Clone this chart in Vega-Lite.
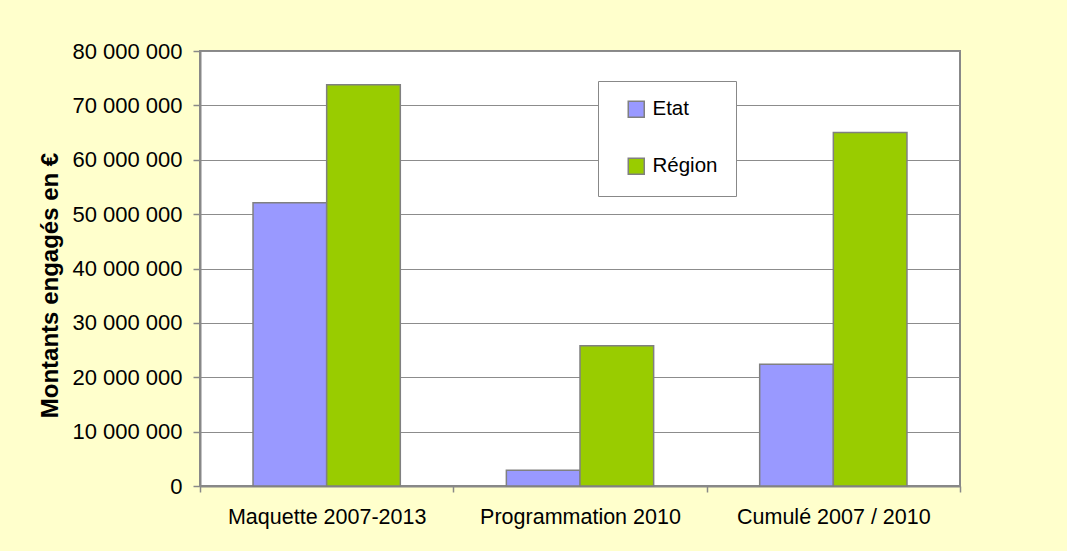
{
  "$schema": "https://vega.github.io/schema/vega-lite/v6.json",
  "width": 760,
  "height": 435,
  "autosize": {"type": "none"},
  "padding": {"left": 200, "top": 51, "right": 107, "bottom": 65},
  "background": "#FFFFCC",
  "data": {
    "values": [
      {"categorie": "Maquette 2007-2013", "serie": "Etat", "montant": 52100000},
      {"categorie": "Maquette 2007-2013", "serie": "Région", "montant": 73800000},
      {"categorie": "Programmation 2010", "serie": "Etat", "montant": 2900000},
      {"categorie": "Programmation 2010", "serie": "Région", "montant": 25800000},
      {"categorie": "Cumulé 2007 / 2010", "serie": "Etat", "montant": 22400000},
      {"categorie": "Cumulé 2007 / 2010", "serie": "Région", "montant": 65000000}
    ]
  },
  "mark": {"type": "bar", "stroke": "#808080", "strokeWidth": 1.5},
  "encoding": {
    "x": {
      "field": "categorie",
      "type": "nominal",
      "sort": ["Maquette 2007-2013", "Programmation 2010", "Cumulé 2007 / 2010"],
      "scale": {"paddingInner": 0, "paddingOuter": 0},
      "axis": {
        "title": null,
        "labelAngle": 0,
        "labelLimit": 400,
        "tickBand": "extent",
        "tickSize": 6,
        "tickWidth": 1.5,
        "tickColor": "#888888",
        "domainColor": "#888888",
        "domainWidth": 2,
        "labelPadding": 14,
        "labelFontSize": 21.5,
        "labelFont": "Liberation Sans",
        "labelColor": "#000000",
        "grid": false
      }
    },
    "xOffset": {
      "field": "serie",
      "type": "nominal",
      "sort": ["Etat", "Région"],
      "scale": {"paddingInner": 0, "paddingOuter": 0.72}
    },
    "y": {
      "field": "montant",
      "type": "quantitative",
      "scale": {"domain": [0, 80000000], "nice": false},
      "axis": {
        "title": "Montants engagés en €",
        "values": [0, 10000000, 20000000, 30000000, 40000000, 50000000, 60000000, 70000000, 80000000],
        "labelExpr": "replace(format(datum.value, ','), regexp(',', 'g'), ' ')",
        "labelFontSize": 22,
        "labelLimit": 300,
        "labelFont": "Liberation Sans",
        "labelColor": "#000000",
        "labelPadding": 11,
        "tickSize": 7,
        "tickWidth": 1.5,
        "tickColor": "#888888",
        "domainColor": "#888888",
        "domainWidth": 2,
        "grid": true,
        "gridColor": "#8c8c8c",
        "gridWidth": 1,
        "titleFont": "Liberation Sans",
        "titleFontSize": 24,
        "titleFontWeight": "bold",
        "titleColor": "#000000",
        "titleAngle": 270,
        "titleX": -143,
        "titleY": 234,
        "titleBaseline": "alphabetic",
        "titleAlign": "center",
        "titleLimit": 500
      }
    },
    "color": {
      "field": "serie",
      "type": "nominal",
      "scale": {"domain": ["Etat", "Région"], "range": ["#9999FF", "#99CC00"]},
      "legend": {
        "title": null,
        "orient": "none",
        "legendX": 398,
        "legendY": 30,
        "fillColor": "#FFFFFF",
        "strokeColor": "#888888",
        "padding": 18,
        "symbolType": "square",
        "symbolSize": 256,
        "symbolStrokeColor": "#808080",
        "symbolStrokeWidth": 1.5,
        "symbolOffset": 10,
        "labelOffset": 6,
        "rowPadding": 34,
        "labelFontSize": 20.5,
        "labelFont": "Liberation Sans",
        "labelColor": "#000000",
        "labelExpr": "datum.label + '\u00a0\u00a0\u00a0'"
      }
    }
  },
  "config": {
    "view": {"fill": "#FFFFFF", "stroke": "#888888", "strokeWidth": 2}
  }
}
